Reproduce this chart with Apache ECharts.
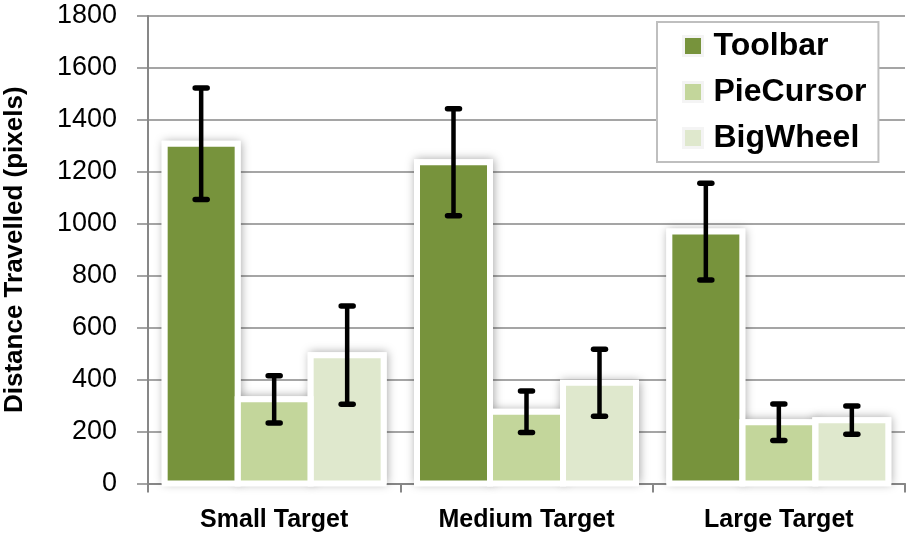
<!DOCTYPE html>
<html>
<head>
<meta charset="utf-8">
<script src="https://cdn.jsdelivr.net/npm/echarts@6/dist/echarts.min.js"></script>
<style>
html,body{margin:0;padding:0;background:#fff;}
#chart{width:912px;height:541px;}
</style>
</head>
<body>
<div id="chart"></div>
<script>
// ---- data ----
const categories = ['Small Target', 'Medium Target', 'Large Target'];
const seriesNames = ['Toolbar', 'PieCursor', 'BigWheel'];
const toolbar = [1308, 1237, 970];
const pieCursor = [324, 276, 236];
const bigWheel = [494, 388, 244];
const toolbarErr = [215, 206, 186];
const pieCursorErr = [91, 80, 70];
const bigWheelErr = [189, 129, 54];
const yMin = 0, yMax = 1800, yStep = 200;
const colors = ['#77933C', '#C3D69B', '#DFE8CD'];

// ---- build ----
const values = [toolbar, pieCursor, bigWheel];
const errs = [toolbarErr, pieCursorErr, bigWheelErr];
const BAR_W = 73;
const BORDER = 6;
const points = [];
values.forEach((arr, s) => arr.forEach((v, c) => points.push([c, v, errs[s][c], s])));

const FONT = '"Liberation Sans", Arial, sans-serif';
const GRAY = '#878787';

const chart = echarts.init(document.getElementById('chart'), null, {renderer: 'canvas'});

const barSeries = seriesNames.map((name, s) => ({
  name: name,
  type: 'bar',
  data: values[s],
  barWidth: BAR_W,
  barGap: '0%',
  z: 3,
  itemStyle: {color: colors[s]}
}));

function barRect(api) {
  const c = api.value(0), v = api.value(1), s = api.value(3);
  const top = api.coord([c, v]);
  const base = api.coord([c, 0]);
  const cx = top[0] + (s - 1) * BAR_W;
  return {x: cx - BAR_W / 2, y: top[1], width: BAR_W, height: base[1] - top[1]};
}

const shadowSeries = {
  type: 'custom',
  name: 'shadow',
  z: 2,
  silent: true,
  data: points,
  encode: {x: 0, y: 1},
  renderItem: function (params, api) {
    const r = barRect(api);
    return {
      type: 'rect',
      shape: {x: r.x - BORDER / 2, y: r.y - BORDER / 2, width: r.width + BORDER, height: r.height + BORDER / 2},
      style: {fill: '#ffffff', shadowBlur: 9, shadowColor: 'rgba(0,0,0,0.35)', shadowOffsetX: 1, shadowOffsetY: 0}
    };
  }
};

const borderSeries = {
  type: 'custom',
  name: 'border',
  z: 4,
  silent: true,
  data: points,
  encode: {x: 0, y: 1},
  renderItem: function (params, api) {
    const r = barRect(api);
    return {
      type: 'rect',
      shape: {x: r.x, y: r.y, width: r.width, height: r.height},
      style: {fill: null, stroke: '#ffffff', lineWidth: BORDER}
    };
  }
};

const errorSeries = {
  type: 'custom',
  name: 'error',
  z: 5,
  silent: true,
  data: points,
  encode: {x: 0, y: 1},
  renderItem: function (params, api) {
    const c = api.value(0), v = api.value(1), e = api.value(2), s = api.value(3);
    const hi = api.coord([c, v + e]);
    const lo = api.coord([c, v - e]);
    const cx = hi[0] + (s - 1) * BAR_W;
    const capHalf = 6;
    return {
      type: 'group',
      children: [
        {type: 'line', shape: {x1: cx, y1: hi[1], x2: cx, y2: lo[1]},
         style: {stroke: '#000', lineWidth: 4.5}},
        {type: 'line', shape: {x1: cx - capHalf, y1: hi[1], x2: cx + capHalf, y2: hi[1]},
         style: {stroke: '#000', lineWidth: 5.5, lineCap: 'round'}},
        {type: 'line', shape: {x1: cx - capHalf, y1: lo[1], x2: cx + capHalf, y2: lo[1]},
         style: {stroke: '#000', lineWidth: 5.5, lineCap: 'round'}}
      ]
    };
  }
};

chart.setOption({
  animation: false,
  backgroundColor: '#ffffff',
  textStyle: {fontFamily: FONT},
  grid: {left: 148, right: 7, top: 16, bottom: 57.5, containLabel: false, outerBoundsMode: 'none'},
  legend: {
    data: seriesNames,
    orient: 'vertical',
    left: 657,
    top: 22,
    padding: [8, 12, 8, 25],
    itemGap: 14,
    itemWidth: 19,
    itemHeight: 19,
    icon: 'rect',
    backgroundColor: '#ffffff',
    borderColor: '#bfbfbf',
    borderWidth: 2,
    borderRadius: 0,
    z: 10,
    itemStyle: {borderColor: '#f4f4f4', borderWidth: 3, shadowBlur: 0},
    textStyle: {fontFamily: FONT, fontSize: 32, fontWeight: 'bold', color: '#000', lineHeight: 32, padding: [0, 0, 0, 6]}
  },
  xAxis: {
    type: 'category',
    data: categories,
    axisLine: {lineStyle: {color: GRAY, width: 2}},
    axisTick: {show: true, length: 9, lineStyle: {color: GRAY, width: 2}},
    axisLabel: {fontFamily: FONT, fontSize: 25, fontWeight: 'bold', color: '#000', margin: 24},
    splitLine: {show: false}
  },
  yAxis: {
    type: 'value',
    min: yMin,
    max: yMax,
    interval: yStep,
    name: 'Distance Travelled (pixels)',
    nameLocation: 'middle',
    nameGap: 120,
    nameTextStyle: {fontFamily: FONT, fontSize: 26, fontWeight: 'bold', color: '#000'},
    axisLine: {show: true, lineStyle: {color: GRAY, width: 2}},
    axisTick: {show: true, length: 11, lineStyle: {color: GRAY, width: 1.5}},
    axisLabel: {fontFamily: FONT, fontSize: 27, color: '#000', margin: 31,
                formatter: function (v) { return String(v); }},
    splitLine: {show: true, lineStyle: {color: GRAY, width: 1.5}}
  },
  series: [shadowSeries].concat(barSeries).concat([borderSeries, errorSeries])
});
</script>
</body>
</html>
